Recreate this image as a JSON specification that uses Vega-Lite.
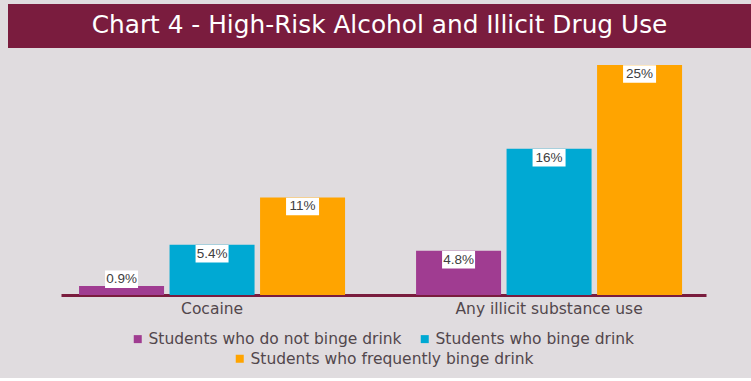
{
  "$schema": "https://vega.github.io/schema/vega-lite/v6.json",
  "background": "#E0DCDF",
  "padding": {"top": 4, "left": 8, "right": 0, "bottom": 10},
  "spacing": 14,
  "config": {"view": {"stroke": null}, "font": "DejaVu Sans"},
  "vconcat": [
    {
      "width": 743,
      "height": 44,
      "view": {"fill": "#7A1C3E", "stroke": null},
      "data": {"values": [{"title": "Chart 4 - High-Risk Alcohol and Illicit Drug Use"}]},
      "mark": {"type": "text", "color": "#FFFFFF", "fontSize": 24.8, "font": "DejaVu Sans", "fontWeight": "normal", "baseline": "middle", "align": "center"},
      "encoding": {"text": {"field": "title"}}
    },
    {
      "width": 743,
      "height": 230,
      "data": {
        "values": [
          {"substance": "Cocaine", "group": "Students who do not binge drink", "value": 0.98, "label": "0.9%"},
          {"substance": "Cocaine", "group": "Students who binge drink", "value": 5.46, "label": "5.4%"},
          {"substance": "Cocaine", "group": "Students who frequently binge drink", "value": 10.6, "label": "11%"},
          {"substance": "Any illicit substance use", "group": "Students who do not binge drink", "value": 4.8, "label": "4.8%"},
          {"substance": "Any illicit substance use", "group": "Students who binge drink", "value": 15.9, "label": "16%"},
          {"substance": "Any illicit substance use", "group": "Students who frequently binge drink", "value": 25, "label": "25%"}
        ]
      },
      "transform": [
        {"calculate": "max(datum.value - 0.98, 1.7)", "as": "labelY"}
      ],
      "layer": [
        {
          "mark": {"type": "bar"},
          "encoding": {
            "x": {
              "field": "substance", "type": "nominal",
              "sort": ["Cocaine", "Any illicit substance use"],
              "scale": {"range": [53, 698], "paddingInner": 0.2107, "paddingOuter": 0.0623, "align": 0.43},
              "axis": {"title": null, "ticks": false, "labelAngle": 0, "labelFontSize": 15.5, "labelColor": "#52474C", "labelPadding": 6, "labelLimit": 400, "domainColor": "#7A1C3E", "domainWidth": 3, "labelFont": "DejaVu Sans"}
            },
            "xOffset": {
              "field": "group", "type": "nominal",
              "sort": ["Students who do not binge drink", "Students who binge drink", "Students who frequently binge drink"],
              "scale": {"paddingInner": 0.0608, "paddingOuter": 0}
            },
            "y": {
              "field": "value", "type": "quantitative",
              "scale": {"domain": [0, 25], "nice": false},
              "axis": {"values": [0, 8.333, 16.667, 25], "grid": true, "gridColor": "#D1CCD0", "gridWidth": 1.5, "labels": false, "ticks": false, "domain": false, "title": null}
            },
            "color": {
              "field": "group", "type": "nominal",
              "sort": ["Students who do not binge drink", "Students who binge drink", "Students who frequently binge drink"],
              "scale": {"domain": ["Students who do not binge drink", "Students who binge drink", "Students who frequently binge drink"], "range": ["#A03C91", "#00A9D3", "#FFA400"]},
              "legend": {
                "values": ["Students who do not binge drink", "Students who binge drink"],
                "title": null, "orient": "none", "legendX": 122, "legendY": 327, "direction": "horizontal",
                "symbolType": "square", "symbolSize": 64, "symbolStrokeWidth": 0, "labelFontSize": 15.5, "labelColor": "#52474C", "labelOffset": 3, "columnPadding": 15, "padding": 0, "labelLimit": 400, "labelFont": "DejaVu Sans"
              }
            }
          }
        },
        {
          "transform": [{"filter": "datum.group === 'Students who frequently binge drink'"}],
          "mark": {"type": "point", "shape": "square", "filled": true, "opacity": 0},
          "encoding": {
            "x": {"field": "substance", "type": "nominal", "sort": ["Cocaine", "Any illicit substance use"]},
            "xOffset": {"field": "group", "type": "nominal", "sort": ["Students who do not binge drink", "Students who binge drink", "Students who frequently binge drink"]},
            "y": {"field": "value", "type": "quantitative", "axis": null},
            "fill": {
              "field": "group", "type": "nominal",
              "scale": {"domain": ["Students who frequently binge drink"], "range": ["#FFA400"]},
              "legend": {
                "title": null, "orient": "none", "legendX": 224, "legendY": 347, "direction": "horizontal",
                "symbolType": "square", "symbolSize": 64, "symbolStrokeWidth": 0, "labelFontSize": 15.5, "labelColor": "#52474C", "labelOffset": 3, "padding": 0, "labelLimit": 400, "labelFont": "DejaVu Sans",
                "encode": {"symbols": {"update": {"opacity": {"value": 1}, "fillOpacity": {"value": 1}}}}
              }
            }
          }
        },
        {
          "mark": {"type": "point", "shape": "M-1,-0.53L1,-0.53L1,0.53L-1,0.53Z", "filled": true, "color": "#FFFFFF", "opacity": 1, "size": 1089, "strokeWidth": 0},
          "encoding": {
            "x": {"field": "substance", "type": "nominal", "sort": ["Cocaine", "Any illicit substance use"]},
            "xOffset": {"field": "group", "type": "nominal", "sort": ["Students who do not binge drink", "Students who binge drink", "Students who frequently binge drink"]},
            "y": {"field": "labelY", "type": "quantitative", "axis": null}
          }
        },
        {
          "mark": {"type": "text", "fontSize": 13.5, "font": "Liberation Sans", "color": "#404040", "baseline": "middle", "align": "center"},
          "encoding": {
            "x": {"field": "substance", "type": "nominal", "sort": ["Cocaine", "Any illicit substance use"]},
            "xOffset": {"field": "group", "type": "nominal", "sort": ["Students who do not binge drink", "Students who binge drink", "Students who frequently binge drink"]},
            "y": {"field": "labelY", "type": "quantitative", "axis": null},
            "text": {"field": "label"}
          }
        }
      ]
    }
  ]
}
